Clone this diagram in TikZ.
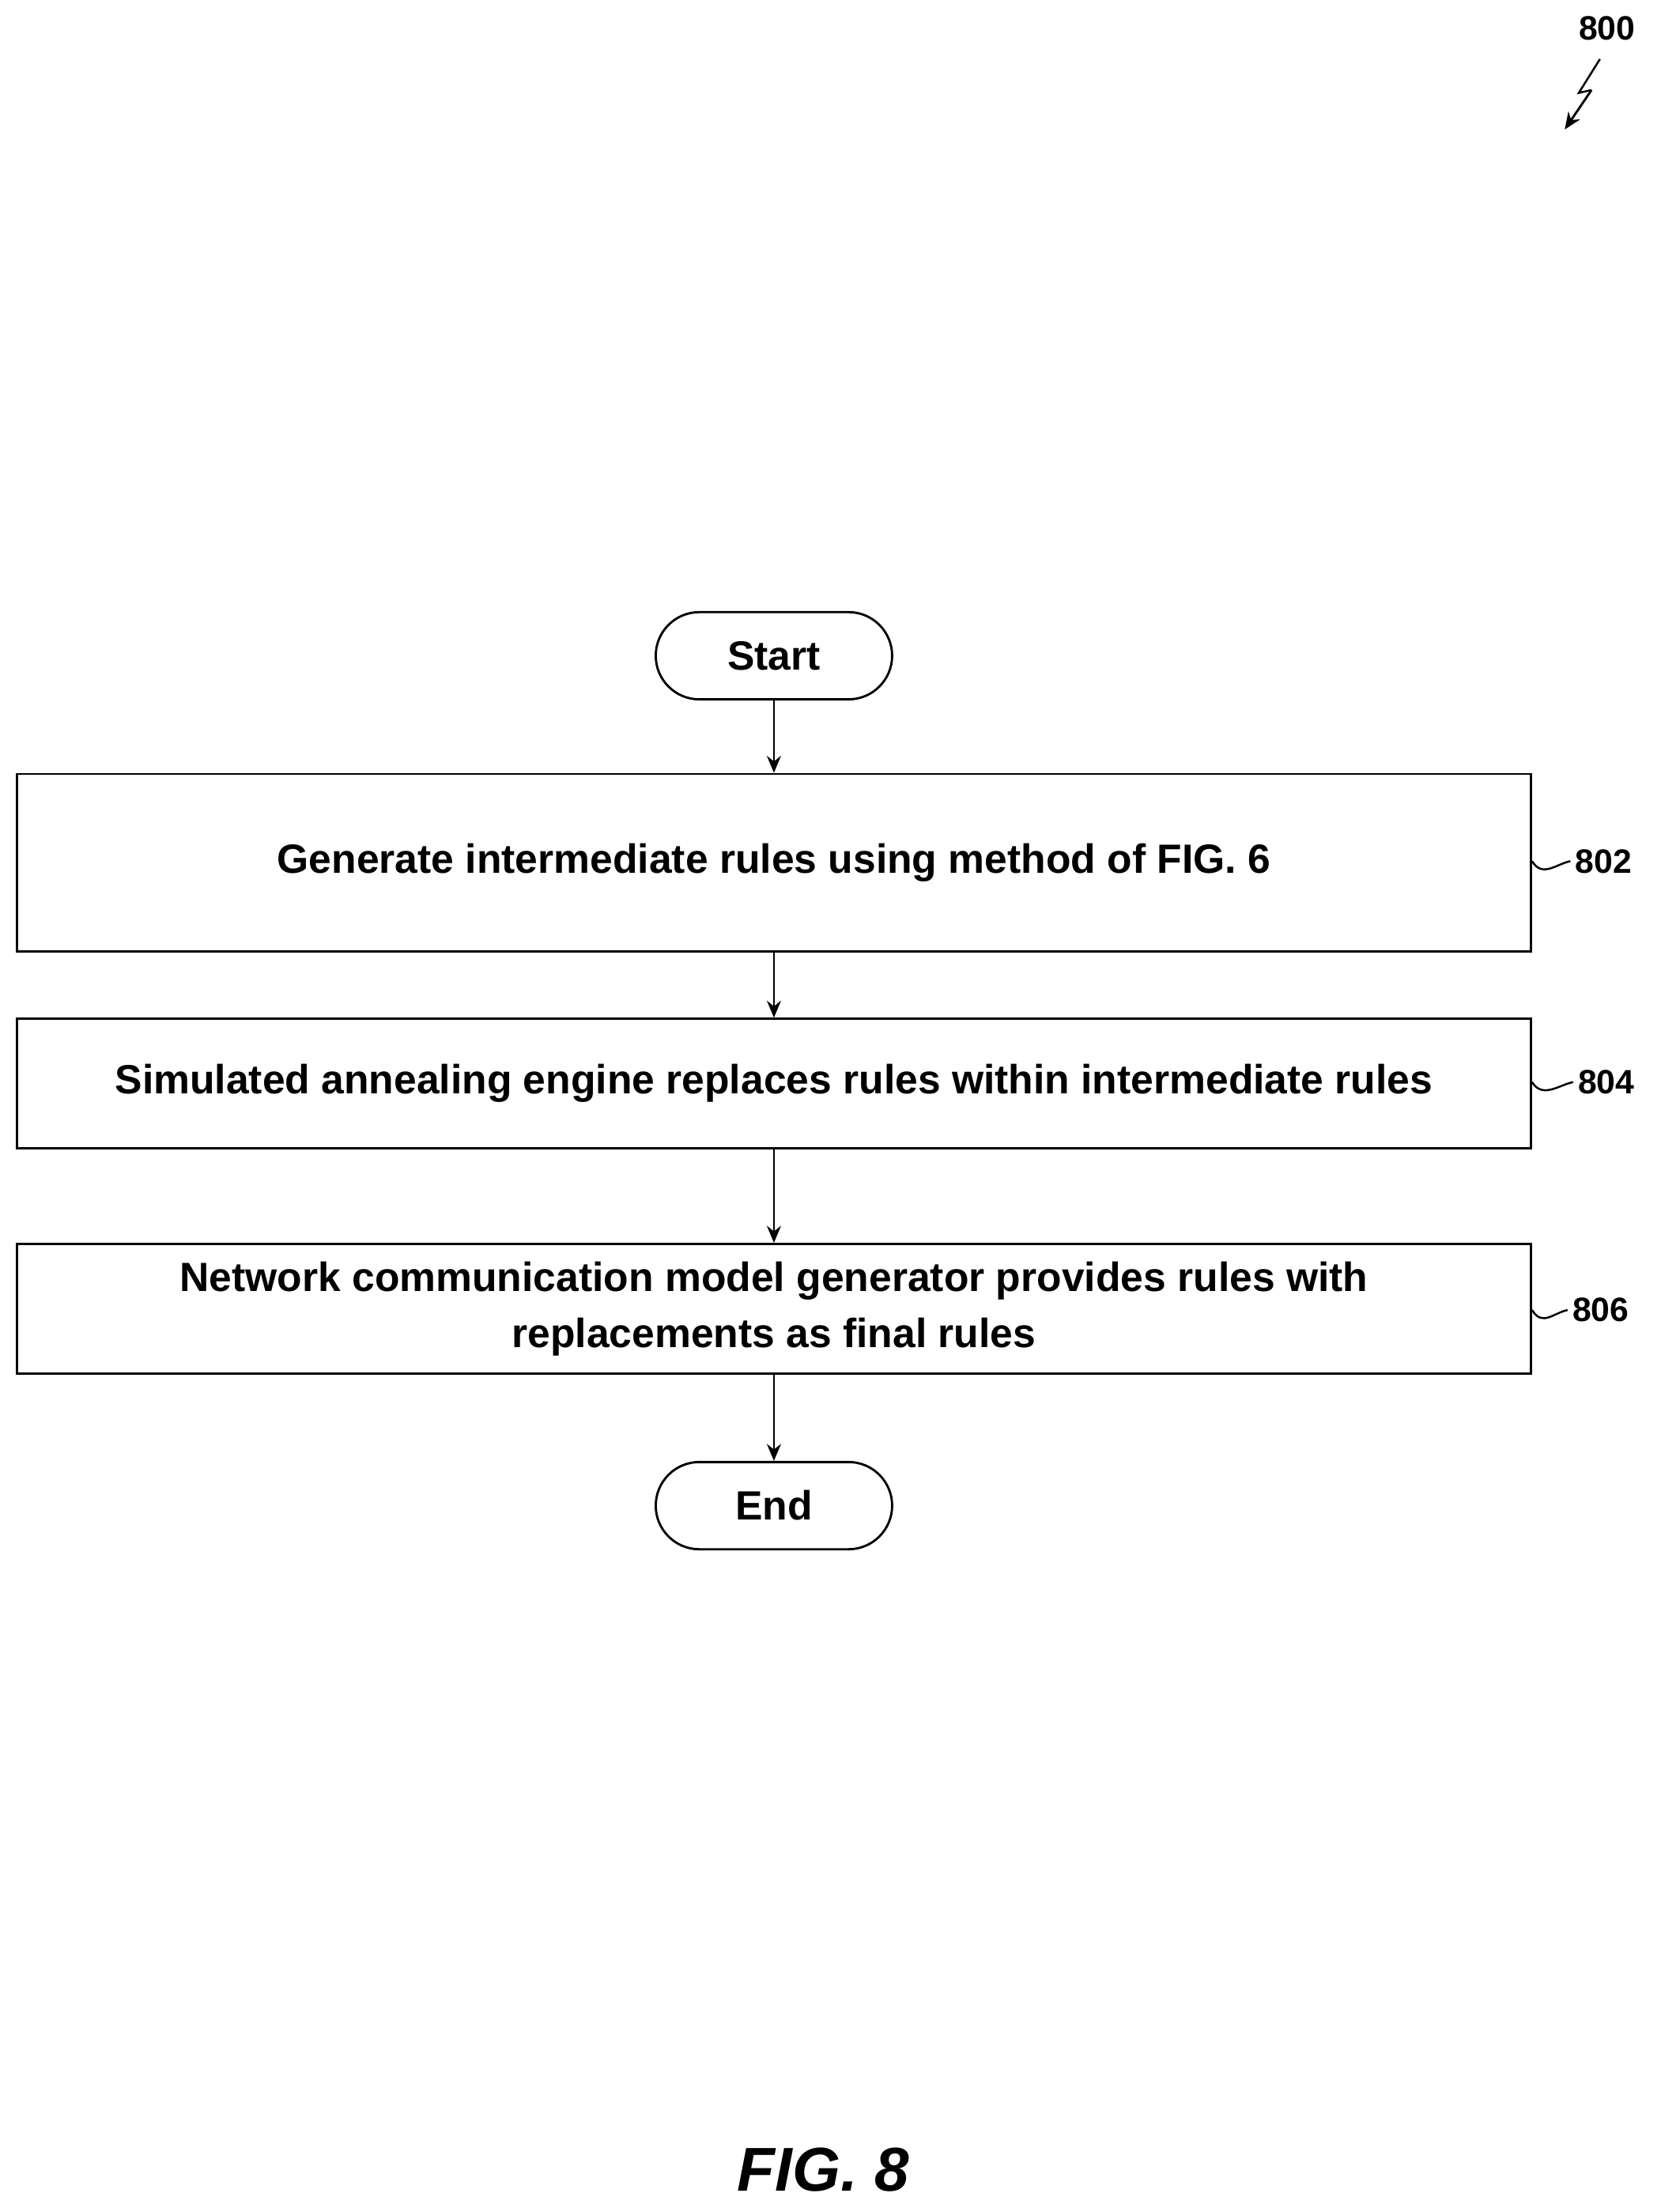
\documentclass[tikz,border=0pt]{standalone}
\usepackage{fontspec}
\setmainfont{Liberation Sans}
\usetikzlibrary{arrows.meta}
\begin{document}
\begin{tikzpicture}[x=1pt,y=-1pt,
  box/.style={draw,line width=1.6pt,minimum width=1076pt,align=center,font=\fontsize{29}{40}\selectfont\bfseries},
  term/.style={draw,line width=1.6pt,rounded corners=31pt,minimum width=168pt,minimum height=62pt,font=\fontsize{29}{34}\selectfont\bfseries},
  lbl/.style={font=\fontsize{24}{28}\selectfont\bfseries,anchor=west},
  arr/.style={line width=1.6pt,-{Stealth[length=12pt,width=10pt]}},
  sq/.style={line width=1.4pt}]
\useasboundingbox (0,0) rectangle (1180,1572);
\node[term] (start) at (550,466) {Start};
\node[box,minimum height=126pt] (b802) at (550,613) {Generate intermediate rules using method of FIG. 6};
\node[box,minimum height=92pt] (b804) at (550,770) {Simulated annealing engine replaces rules within intermediate rules};
\node[box,minimum height=92pt] (b806) at (550,930) {Network communication model generator provides rules with\\replacements as final rules};
\node[term] (end) at (550,1070) {End};
\draw[arr] (start) -- (b802);
\draw[arr] (b802) -- (b804);
\draw[arr] (b804) -- (b806);
\draw[arr] (b806) -- (end);
\node[lbl] (l802) at (1116,612) {802};
\node[lbl] (l804) at (1118,769) {804};
\node[lbl] (l806) at (1114,931) {806};
\draw[sq] (b802.east |- l802) .. controls (1096,624) and (1106,614) .. (l802.west);
\draw[sq] (b804.east |- l804) .. controls (1096,781) and (1108,771) .. (l804.west);
\draw[sq] (b806.east |- l806) .. controls (1096,943) and (1104,933) .. (l806.west);
\node[font=\fontsize{24}{28}\selectfont\bfseries] (l800) at (1142,20) {800};
\coordinate (z1) at (1137,42);
\coordinate (z2) at (1122,66);
\coordinate (z3) at (1131,64);
\coordinate (z4) at (1112,92);
\draw[line width=1.4pt] (z1) -- (z2) -- (z3);
\draw[arr] (z3) -- (z4);
\node[font=\fontsize{44}{50}\selectfont\bfseries\itshape] (fig) at (585,1542) {FIG. 8};
\end{tikzpicture}
\end{document}
